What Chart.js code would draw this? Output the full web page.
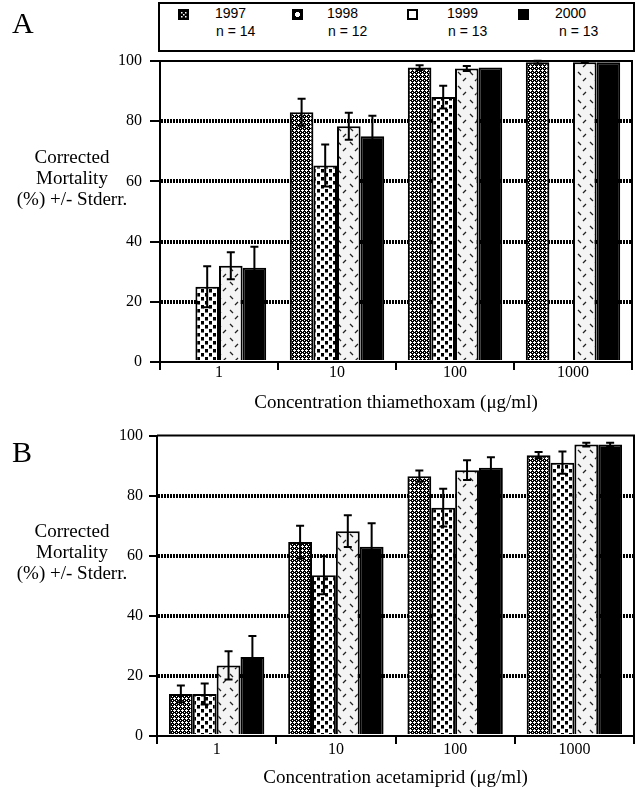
<!DOCTYPE html>
<html>
<head>
<meta charset="utf-8">
<script src="https://cdn.jsdelivr.net/npm/chart.js@4/dist/chart.umd.min.js"></script>
<style>
  body { margin: 0; background: #fff; }
  #wrap { position: relative; width: 636px; height: 790px; overflow: hidden; font-family: "Liberation Serif", serif; color: #000; }
  canvas.chart { position: absolute; left: 0; }
  #chartA { top: 0; }
  #chartB { top: 420px; }
  .panel { position: absolute; left: 12px; font-size: 30px; line-height: 30px; }
  .ytitle { position: absolute; left: 0; width: 144px; text-align: center; font-size: 19px; line-height: 21px; }
  #legend { position: absolute; left: 158px; top: 2px; width: 477px; height: 50px; box-sizing: border-box; border: 2px solid #000; background: #fff; }
  .lg { position: absolute; font-family: "Liberation Sans", Arial, sans-serif; font-size: 14px; line-height: 18px; }
  .sw { position: absolute; top: 5px; }
</style>
</head>
<body>
<div id="wrap">
  <canvas id="chartA" class="chart" width="636" height="420"></canvas>
  <canvas id="chartB" class="chart" width="636" height="370"></canvas>
  <div class="panel" style="top:8px">A</div>
  <div class="panel" style="top:437px">B</div>
  <div class="ytitle" style="top:146px">Corrected<br>Mortality<br>(%) +/- Stderr.</div>
  <div class="ytitle" style="top:520px">Corrected<br>Mortality<br>(%) +/- Stderr.</div>
  <div id="legend"></div>
</div>
<script>
// concentrations (µg/ml)
const concentrations = ['1', '10', '100', '1000'];
const years = ['1997', '1998', '1999', '2000'];
const sampleSizes = ['n = 14', 'n = 12', 'n = 13', 'n = 13'];
const yTicks = [0, 20, 40, 60, 80, 100];

// panel A - thiamethoxam, corrected mortality (%) and std. error
const thia1997 = [null, 83, 97.8, 99.6];
const thia1998 = [25, 65.3, 88, null];
const thia1999 = [32, 78.3, 97.5, 99.6];
const thia2000 = [31.3, 75, 97.8, 99.6];
const thiaErr1997 = [null, 4.5, 0.8, 0.5];
const thiaErr1998 = [6.8, 7, 3.8, null];
const thiaErr1999 = [4.5, 4.5, 0.8, 0.3];
const thiaErr2000 = [7, 6.8, 0, 0];

// panel B - acetamiprid
const acet1997 = [14, 64.6, 86.5, 93.5];
const acet1998 = [14, 53.5, 76, 91];
const acet1999 = [23.5, 68.2, 88.5, 97];
const acet2000 = [26.3, 63, 89.3, 97];
const acetErr1997 = [2.8, 5.4, 1.9, 1];
const acetErr1998 = [3.5, 6.3, 6.3, 3.7];
const acetErr1999 = [4.7, 5.3, 3.3, 0.6];
const acetErr2000 = [7, 7.8, 3.5, 0.6];

// fill patterns for the four years
function makeTile(w, h, draw) {
    const c = document.createElement('canvas');
    c.width = w; c.height = h;
    const g = c.getContext('2d');
    draw(g);
    return c;
}

const tiles = [
    // 1997: grey lattice with small white crosses
    makeTile(4, 4, g => {
        g.fillStyle = '#000'; g.fillRect(0, 0, 4, 4);
        g.fillStyle = '#fff';
        [[2,1],[1,2],[2,2],[3,2],[2,3],[0,0]].forEach(p => g.fillRect(p[0], p[1], 1, 1));
    }),
    // 1998: staggered black squares
    makeTile(8, 8, g => {
        g.fillStyle = '#fff'; g.fillRect(0, 0, 8, 8);
        g.fillStyle = '#000';
        g.fillRect(1, 1, 3, 3);
        g.fillRect(5, 5, 3, 3);
        g.fillStyle = '#777';
        g.fillRect(1, 4, 3, 1);
        g.fillRect(5, 0, 3, 1);
    }),
    // 1999: light grey with small diagonal dashes
    makeTile(12, 14, g => {
        g.fillStyle = '#f4f4f4'; g.fillRect(0, 0, 12, 14);
        g.strokeStyle = '#222'; g.lineWidth = 1.3;
        g.beginPath();
        g.moveTo(2, 2); g.lineTo(5, 5);
        g.moveTo(10, 8); g.lineTo(7, 11);
        g.stroke();
    }),
    null
];

function fillFor(ctx, i) {
    if (!tiles[i]) return '#000';
    return ctx.createPattern(tiles[i], 'repeat');
}

// error bars drawn through the chart's own scales
const errorBars = {
    id: 'errorBars',
    afterDatasetsDraw(chart) {
        const ctx = chart.ctx;
        const y = chart.scales.y;
        ctx.save();
        ctx.strokeStyle = '#000';
        ctx.lineWidth = 2;
        chart.data.datasets.forEach((ds, i) => {
            const meta = chart.getDatasetMeta(i);
            meta.data.forEach((bar, j) => {
                const v = ds.data[j], e = ds.errors[j];
                if (v == null || !e) return;
                const top = y.getPixelForValue(v + e);
                const bot = y.getPixelForValue(v - e);
                ctx.beginPath();
                ctx.moveTo(bar.x, top); ctx.lineTo(bar.x, bot);
                ctx.moveTo(bar.x - 4, top); ctx.lineTo(bar.x + 4, top);
                ctx.moveTo(bar.x - 4, bot); ctx.lineTo(bar.x + 4, bot);
                ctx.stroke();
            });
        });
        ctx.restore();
    }
};

// top and right edge of the plot frame
const frame = {
    id: 'frame',
    afterDraw(chart) {
        const a = chart.chartArea, ctx = chart.ctx;
        ctx.save();
        ctx.strokeStyle = '#000';
        ctx.lineWidth = 2;
        ctx.beginPath();
        ctx.moveTo(a.left, a.top); ctx.lineTo(a.right, a.top); ctx.lineTo(a.right, a.bottom);
        ctx.stroke();
        ctx.restore();
    }
};

Chart.defaults.font.family = '"Liberation Serif", serif';
Chart.defaults.color = '#000';

function buildChart(id, series, errors, cfg) {
    const canvas = document.getElementById(id);
    const ctx = canvas.getContext('2d');
    return new Chart(canvas, {
        type: 'bar',
        data: {
            labels: concentrations,
            datasets: series.map((d, i) => ({
                label: years[i],
                data: d,
                errors: errors[i],
                backgroundColor: fillFor(ctx, i),
                borderColor: '#000',
                borderWidth: 2,
                barPercentage: 1,
                categoryPercentage: 0.8
            }))
        },
        options: {
            responsive: false,
            animation: false,
            devicePixelRatio: 1,
            layout: { padding: { top: cfg.top, right: cfg.right, left: 0, bottom: 0 } },
            plugins: { legend: { display: false }, tooltip: { enabled: false } },
            scales: {
                x: {
                    afterFit(s) { s.height = cfg.xHeight; },
                    grid: { offset: true, drawOnChartArea: false, drawTicks: true, tickLength: 8, tickWidth: 2, tickColor: '#000', color: '#000', lineWidth: 2 },
                    border: { color: '#000', width: 2 },
                    ticks: { font: { size: 16 }, padding: cfg.xPad, color: '#000' },
                    title: { display: true, text: cfg.title, font: { size: 19 }, color: '#000', padding: { top: 0, bottom: cfg.titlePad } }
                },
                y: {
                    min: 0, max: 100,
                    afterFit(s) { s.width = cfg.yWidth; },
                    afterBuildTicks(s) { s.ticks = yTicks.map(v => ({ value: v })); },
                    grid: {
                        color: c => (c.tick && (c.tick.value === 0 || c.tick.value === 100)) ? 'rgba(0,0,0,0)' : '#000',
                        lineWidth: 4,
                        tickColor: '#000', tickWidth: 2, tickLength: cfg.yTick, tickBorderDash: []
                    },
                    border: { color: '#000', width: 2, dash: [2, 1] },
                    ticks: { font: { size: 16 }, padding: cfg.yPad, color: '#000' }
                }
            }
        },
        plugins: [errorBars, frame]
    });
}

buildChart('chartA', [thia1997, thia1998, thia1999, thia2000],
    [thiaErr1997, thiaErr1998, thiaErr1999, thiaErr2000],
    { top: 61, right: 4, xHeight: 58, xPad: -7, titlePad: 6, yWidth: 160, yTick: 10, yPad: 8,
      title: 'Concentration thiamethoxam (μg/ml)' });

buildChart('chartB', [acet1997, acet1998, acet1999, acet2000],
    [acetErr1997, acetErr1998, acetErr1999, acetErr2000],
    { top: 14, right: 2, xHeight: 54, xPad: -4, titlePad: 1, yWidth: 157, yTick: 8, yPad: 6,
      title: 'Concentration acetamiprid (μg/ml)' });

// legend box: small key squares as in the original figure
function drawSwatch(g, i) {
    g.fillStyle = i === 2 ? '#fff' : '#000';
    g.fillRect(0, 0, 11, 11);
    g.fillStyle = '#fff';
    if (i === 0) {
        [[3,3],[7,3],[5,5],[3,7],[7,7]].forEach(p => g.fillRect(p[0], p[1], 1.5, 1.5));
    } else if (i === 1) {
        g.fillRect(4, 3, 3, 5);
        g.fillRect(3, 4, 5, 3);
    }
    g.strokeStyle = '#000'; g.lineWidth = 2;
    g.strokeRect(1, 1, 9, 9);
}

const legend = document.getElementById('legend');
const swatchX = [18, 132, 247, 358];
const textX = [55, 167, 287, 395];
years.forEach((yr, i) => {
    const sw = document.createElement('canvas');
    sw.className = 'sw';
    sw.width = 11; sw.height = 11;
    sw.style.left = swatchX[i] + 'px';
    drawSwatch(sw.getContext('2d'), i);
    legend.appendChild(sw);
    const t = document.createElement('div');
    t.className = 'lg';
    t.style.left = textX[i] + 'px';
    t.style.top = '0px';
    t.innerHTML = yr + '<br><span style="margin-left:' + (i === 3 ? 4 : 1) + 'px">' + sampleSizes[i] + '</span>';
    legend.appendChild(t);
});
</script>
</body>
</html>
